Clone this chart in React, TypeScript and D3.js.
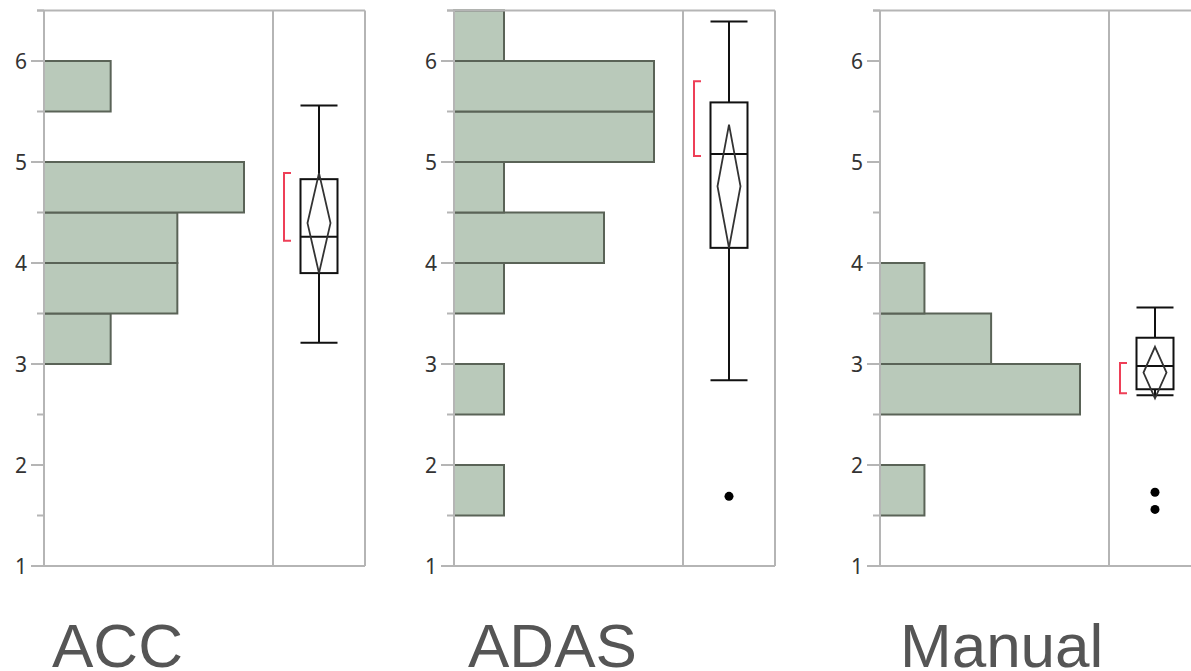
import React from "react";
import * as d3 from "d3";

// Group names shown under each panel
const groups = ["ACC", "ADAS", "Manual"];

// Histogram bins (lower edge of each 0.5-wide bin) and counts per group
const binWidth = 0.5;
const accBinStarts = [3, 3.5, 4, 4.5, 5.5];
const accCounts = [1, 2, 2, 3, 1];
const adasBinStarts = [1.5, 2.5, 3.5, 4, 4.5, 5, 5.5, 6];
const adasCounts = [1, 1, 1, 3, 1, 4, 4, 1];
const manualBinStarts = [1.5, 2.5, 3, 3.5];
const manualCounts = [2, 9, 5, 2];

// Outlier box plot summaries per group
const whiskerLow = [3.21, 2.84, 2.69];
const quartile1 = [3.9, 4.15, 2.75];
const medians = [4.26, 5.08, 2.98];
const quartile3 = [4.83, 5.59, 3.26];
const whiskerHigh = [5.56, 6.39, 3.56];
// Means diamonds: 95% confidence interval of the mean
const meanCiLow = [3.9, 4.15, 2.66];
const meanCiHigh = [4.89, 5.37, 3.17];
// Shortest half brackets
const shortestHalfLow = [4.22, 5.06, 2.71];
const shortestHalfHigh = [4.89, 5.8, 3.01];
const outliers = [[], [1.69], [1.73, 1.56]];

// Axis ticks
const majorTicks = [1, 2, 3, 4, 5, 6];
const minorTicks = [1.5, 2.5, 3.5, 4.5, 5.5, 6.5];

const binStarts = [accBinStarts, adasBinStarts, manualBinStarts];
const binCounts = [accCounts, adasCounts, manualCounts];

const W = 1191;
const H = 671;
const panelAxisX = [44, 454, 880];
const panelWidth = 321;
const histWidth = 229;
const labelX = [52, 468, 900];

const axisColor = "#b5b5b5";
const barFill = "#b9c9ba";
const barStroke = "#5a6357";

const y = d3.scaleLinear().domain([1, 6.5]).range([566, 10.5]);

function Panel({ i }: { i: number }) {
  const ax = panelAxisX[i];
  const counts = binCounts[i];
  const starts = binStarts[i];
  const maxCount = d3.max(counts) as number;
  const x = d3
    .scaleLinear()
    .domain([0, maxCount * 1.145])
    .range([ax, ax + histWidth]);
  const right = ax + panelWidth;
  const cx = ax + histWidth + (panelWidth - histWidth) / 2;
  const boxHalf = 18.5;
  const diamondHalf = 11.5;
  const ciMid = (meanCiLow[i] + meanCiHigh[i]) / 2;
  const bx = cx - 35;

  return (
    <g>
      {/* histogram bars */}
      {starts.map((s, k) => (
        <rect
          key={k}
          x={x(0)}
          y={y(Math.min(s + binWidth, 6.5))}
          width={x(counts[k]) - x(0)}
          height={y(s) - y(Math.min(s + binWidth, 6.5))}
          fill={barFill}
          stroke={barStroke}
          strokeWidth={2}
        />
      ))}

      {/* frame */}
      <line x1={ax} x2={ax} y1={y(6.5)} y2={y(1)} stroke={axisColor} strokeWidth={2} />
      <line x1={ax - 13} x2={right} y1={y(1)} y2={y(1)} stroke={axisColor} strokeWidth={2} />
      <line x1={ax - 7} x2={right} y1={y(6.5)} y2={y(6.5)} stroke={axisColor} strokeWidth={2} />
      <line x1={ax + histWidth} x2={ax + histWidth} y1={y(6.5)} y2={y(1)} stroke={axisColor} strokeWidth={2} />
      <line x1={right} x2={right} y1={y(6.5)} y2={y(1)} stroke={axisColor} strokeWidth={2} />

      {/* ticks */}
      {majorTicks.map((t) => (
        <g key={"M" + t}>
          <line x1={ax - 13} x2={ax} y1={y(t)} y2={y(t)} stroke={axisColor} strokeWidth={2} />
          <text
            x={ax - 17}
            y={y(t)}
            dy="0.36em"
            textAnchor="end"
            fontFamily="'Noto Sans', sans-serif"
            fontSize={21}
            fill="#333"
          >
            {t}
          </text>
        </g>
      ))}
      {minorTicks.map((t) => (
        <line key={"m" + t} x1={ax - 7} x2={ax} y1={y(t)} y2={y(t)} stroke={axisColor} strokeWidth={2} />
      ))}

      {/* shortest half bracket */}
      <path
        d={`M${bx + 7},${y(shortestHalfHigh[i])}H${bx}V${y(shortestHalfLow[i])}H${bx + 7}`}
        fill="none"
        stroke="#ee3f57"
        strokeWidth={2}
      />

      {/* whiskers */}
      <line x1={cx} x2={cx} y1={y(whiskerHigh[i])} y2={y(quartile3[i])} stroke="#111" strokeWidth={2} />
      <line x1={cx} x2={cx} y1={y(quartile1[i])} y2={y(whiskerLow[i])} stroke="#111" strokeWidth={2} />
      <line x1={cx - boxHalf} x2={cx + boxHalf} y1={y(whiskerHigh[i])} y2={y(whiskerHigh[i])} stroke="#111" strokeWidth={2} />
      <line x1={cx - boxHalf} x2={cx + boxHalf} y1={y(whiskerLow[i])} y2={y(whiskerLow[i])} stroke="#111" strokeWidth={2} />

      {/* box */}
      <rect
        x={cx - boxHalf}
        y={y(quartile3[i])}
        width={boxHalf * 2}
        height={y(quartile1[i]) - y(quartile3[i])}
        fill="none"
        stroke="#111"
        strokeWidth={2}
      />
      <line x1={cx - boxHalf} x2={cx + boxHalf} y1={y(medians[i])} y2={y(medians[i])} stroke="#111" strokeWidth={2} />

      {/* means diamond */}
      <path
        d={`M${cx},${y(meanCiHigh[i])}L${cx + diamondHalf},${y(ciMid)}L${cx},${y(meanCiLow[i])}L${cx - diamondHalf},${y(ciMid)}Z`}
        fill="none"
        stroke="#333"
        strokeWidth={1.8}
      />

      {/* outliers */}
      {outliers[i].map((v, k) => (
        <circle key={k} cx={cx} cy={y(v)} r={4.5} fill="#000" />
      ))}

      {/* group label */}
      <text
        x={labelX[i]}
        y={667}
        fontFamily="'Liberation Sans', Arial, sans-serif"
        fontSize={62}
        fill="#555"
      >
        {groups[i]}
      </text>
    </g>
  );
}

export default function App() {
  return (
    <svg
      width={W}
      height={H}
      viewBox={`0 0 ${W} ${H}`}
      style={{ position: "absolute", left: 0, top: 0, background: "#fff" }}
    >
      <rect width={W} height={H} fill="#fff" />
      {groups.map((g, i) => (
        <Panel key={g} i={i} />
      ))}
    </svg>
  );
}
